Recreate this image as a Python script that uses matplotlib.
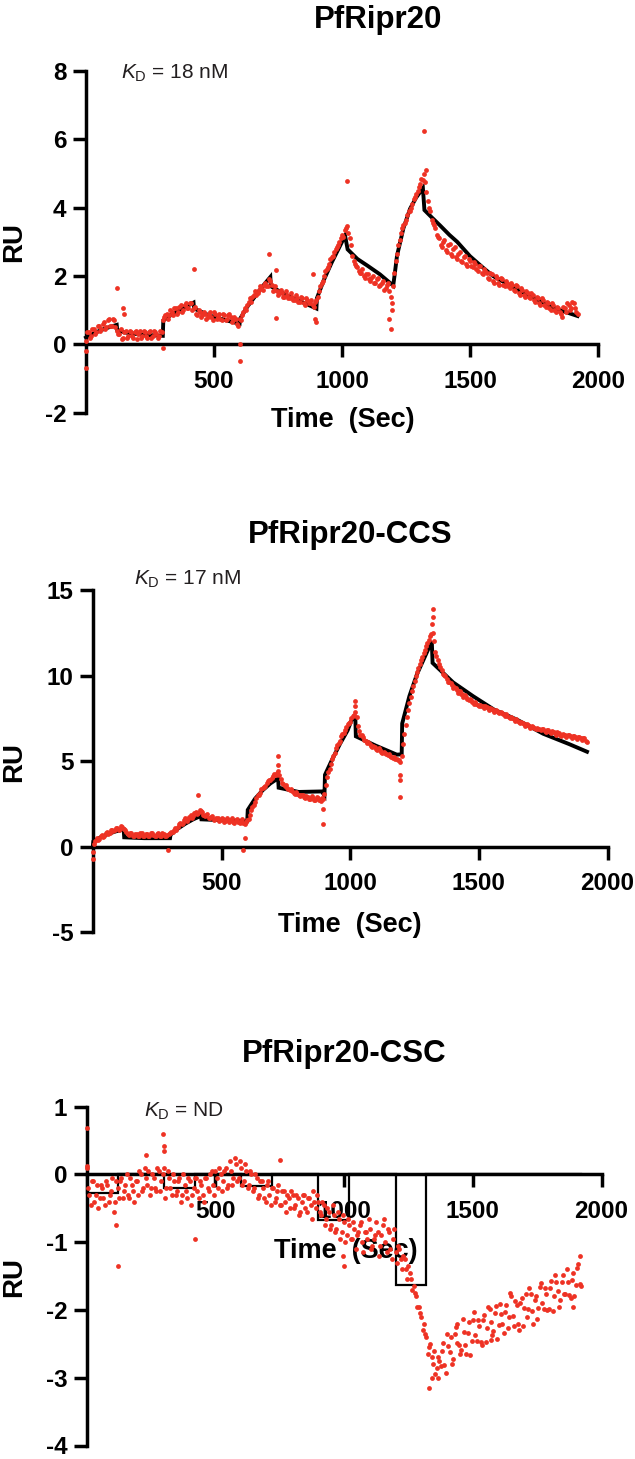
import numpy as np
import matplotlib
matplotlib.use("Agg")
import matplotlib.pyplot as plt

plt.rcParams['font.family'] = ['Liberation Sans', 'DejaVu Sans']
plt.rcParams['mathtext.fontset'] = 'custom'
plt.rcParams['mathtext.rm'] = 'Liberation Sans'
plt.rcParams['mathtext.it'] = 'Liberation Sans:italic'
plt.rcParams['axes.unicode_minus'] = False

# ---------------- data ----------------
titles = ["PfRipr20", "PfRipr20-CCS", "PfRipr20-CSC"]
kd_labels = [r"$K_{\mathrm{D}}$ = 18 nM", r"$K_{\mathrm{D}}$ = 17 nM", r"$K_{\mathrm{D}}$ = ND"]
x_ticks = [500, 1000, 1500, 2000]
y_ticks_1 = [-2, 0, 2, 4, 6, 8]
y_ticks_2 = [-5, 0, 5, 10, 15]
y_ticks_3 = [-4, -3, -2, -1, 0, 1]

# two interleaved readings of the sensorgram (every 10 s, offset by 5 s)
time_a = np.arange(0, 1930, 10)
time_b = np.arange(5, 1920, 10)

ru_1a = [0.10, 0.35, 0.25, 0.45, 0.35, 0.55, 0.45, 0.65, 0.50, 0.75,
         0.55, 0.70, 0.40, 0.30, 0.15, 0.35, 0.20, 0.40, 0.25, 0.35,
         0.15, 0.40, 0.25, 0.35, 0.20, 0.40, 0.25, 0.35, 0.20, 0.40,
         0.70, 0.85, 0.75, 1.00, 0.85, 1.05, 0.95, 1.15, 1.00, 1.20,
         1.05, 1.20, 1.05, 0.90, 1.00, 0.80, 0.95, 0.75, 0.90, 0.80,
         0.95, 0.75, 0.90, 0.70, 0.85, 0.75, 0.90, 0.65, 0.80, 0.60,
         0.75, 0.85, 1.05, 1.15, 1.35, 1.40, 1.55, 1.50, 1.70, 1.60,
         1.80, 1.70, 1.85, 1.55, 1.70, 1.45, 1.60, 1.40, 1.55, 1.35,
         1.50, 1.30, 1.45, 1.25, 1.40, 1.20, 1.35, 1.20, 1.30, 1.10,
         1.30, 1.55, 1.80, 2.00, 2.20, 2.35, 2.55, 2.70, 2.85, 3.00,
         3.20, 3.35, 3.45, 3.10, 2.60, 2.35, 2.25, 2.10, 2.20, 1.95,
         2.05, 1.85, 2.00, 1.80, 1.95, 1.75, 1.85, 1.65, 1.80, 1.40,
         1.70, 2.45, 2.90, 3.25, 3.50, 3.65, 3.90, 4.00, 4.25, 4.40,
         4.60, 4.85, 5.00, 4.45, 4.00, 3.65, 3.50, 3.20, 3.10, 2.85,
         3.05, 2.70, 2.95, 2.60, 2.85, 2.50, 2.70, 2.40, 2.60, 2.30,
         2.45, 2.25, 2.35, 2.15, 2.30, 2.05, 2.15, 1.95, 2.10, 1.85,
         2.00, 1.80, 1.95, 1.75, 1.85, 1.70, 1.80, 1.60, 1.75, 1.50,
         1.65, 1.45, 1.55, 1.40, 1.50, 1.30, 1.40, 1.20, 1.35, 1.15,
         1.25, 1.05, 1.20, 1.00, 1.10, 0.95, 0.80, 1.05, 1.20, 1.00,
         1.25, 1.05, 0.90]
ru_1b = [0.35, 0.20, 0.45, 0.30, 0.55, 0.40, 0.60, 0.45, 0.70, 0.55, 0.75, 0.50,
         0.30, 0.45, 0.20, 0.40, 0.25, 0.35, 0.20, 0.40, 0.30, 0.20, 0.40, 0.25,
         0.35, 0.20, 0.40, 0.30, 0.25, 0.35,
         0.80, 0.90, 0.85, 0.95, 1.05, 0.90, 1.10, 0.95, 1.15, 1.05, 1.20, 1.00,
         1.10, 0.85, 0.95, 0.85, 0.90, 0.80, 0.95, 0.70, 0.90, 0.80, 0.75, 0.90,
         0.70, 0.85, 0.80, 0.70, 0.75, 0.55,
         0.70, 0.95, 1.00, 1.25, 1.25, 1.45, 1.45, 1.60, 1.65, 1.75, 1.70, 1.90,
         1.75, 1.60, 1.55, 1.50, 1.50, 1.40, 1.45, 1.35, 1.40, 1.30, 1.35, 1.25,
         1.35, 1.15, 1.30, 1.20, 1.15, 1.25,
         1.40, 1.70, 1.85, 2.15, 2.25, 2.50, 2.60, 2.80, 2.90, 3.10, 3.15, 3.40,
         3.25, 2.90, 2.45, 2.30, 2.15, 2.10, 2.00, 2.05, 1.90, 1.95, 1.80, 1.90,
         1.70, 1.80, 1.60, 1.75, 1.55, 1.20,
         2.10, 2.65, 3.05, 3.40, 3.55, 3.80, 3.90, 4.10, 4.30, 4.50, 4.70, 4.80,
         4.75, 4.20, 3.90, 3.55, 3.40, 3.15, 2.90, 3.00, 2.75, 2.90, 2.65, 2.80,
         2.55, 2.65, 2.45, 2.55, 2.35, 2.50, 2.30, 2.40, 2.20, 2.30, 2.10, 2.20,
         2.10, 1.90, 2.05, 1.80, 1.95, 1.75, 1.90, 1.70, 1.80, 1.65, 1.75, 1.55,
         1.70, 1.45, 1.60, 1.40, 1.50, 1.35, 1.45, 1.25, 1.35, 1.15, 1.30, 1.10,
         1.20, 1.00, 1.15, 0.95, 1.05, 0.90, 1.10, 0.95, 1.15, 1.05, 1.20, 0.95]
out_t_1 = [0, 0, 120, 145, 150, 300, 420, 600, 600, 716, 743, 743, 887, 895, 900,
           1020, 1185, 1190, 1195, 1320, 1330]
out_ru_1 = [-0.70, -0.20, 1.65, 1.05, 0.90, -0.10, 2.22, -0.48, 0.00, 2.65, 2.18,
            0.76, 2.06, 0.75, 0.65, 4.78, 0.75, 0.45, 1.00, 6.25, 5.10]
fit_t_1 = [0, 30, 60, 90, 120, 122, 150, 200, 250, 300, 302, 330, 360, 390, 420,
           422, 480, 540, 600, 602, 630, 660, 690, 720, 722, 780, 840, 900, 902,
           930, 960, 990, 1012, 1022, 1060, 1100, 1148, 1200, 1205, 1215, 1240,
           1266, 1290, 1316, 1322, 1350, 1383, 1420, 1450, 1500, 1550, 1590, 1650,
           1700, 1750, 1810, 1860, 1920]
fit_ru_1 = [0.20, 0.32, 0.42, 0.50, 0.57, 0.42, 0.35, 0.30, 0.27, 0.25, 0.70, 0.85,
            0.98, 1.10, 1.22, 1.05, 0.85, 0.72, 0.60, 0.75, 1.10, 1.40, 1.70, 1.97,
            1.70, 1.45, 1.25, 1.05, 1.35, 1.90, 2.40, 2.85, 3.18, 2.78, 2.50, 2.30,
            2.05, 1.72, 2.00, 2.60, 3.40, 3.97, 4.30, 4.57, 3.93, 3.72, 3.48, 3.20,
            3.00, 2.58, 2.25, 2.00, 1.75, 1.55, 1.36, 1.13, 0.98, 0.83]

ru_2a = [-0.30, 0.35, 0.40, 0.60, 0.55, 0.80, 0.75, 0.95, 0.90, 1.10,
         1.00, 1.20, 1.05, 0.85, 0.70, 0.80, 0.60, 0.75, 0.65, 0.80,
         0.60, 0.75, 0.65, 0.80, 0.60, 0.75, 0.60, 0.80, 0.65, 0.70,
         0.80, 0.85, 1.10, 1.15, 1.40, 1.40, 1.65, 1.60, 1.85, 1.80,
         2.05, 1.95, 2.10, 1.85, 1.85, 1.70, 1.75, 1.55, 1.70, 1.50,
         1.70, 1.45, 1.65, 1.45, 1.65, 1.40, 1.60, 1.40, 1.60, 1.35,
         1.55, 1.85, 2.35, 2.60, 3.00, 3.15, 3.45, 3.55, 3.85, 3.90,
         4.15, 4.20, 4.40, 3.95, 3.65, 3.60, 3.35, 3.40, 3.15, 3.20,
         3.00, 3.05, 2.90, 2.95, 2.80, 2.95, 2.75, 2.90, 2.75, 2.85,
         3.10, 4.05, 4.55, 5.15, 5.45, 5.95, 6.20, 6.60, 6.80, 7.15,
         7.30, 7.65, 7.85, 7.05, 6.55, 6.40, 6.15, 6.10, 5.90, 5.90,
         5.70, 5.75, 5.55, 5.55, 5.40, 5.40, 5.25, 5.25, 5.10, 5.05,
         5.30, 6.60, 7.60, 8.40, 9.10, 9.70, 10.20, 10.70, 11.10, 11.50,
         11.90, 12.30, 12.50, 11.40, 10.90, 10.50, 10.10, 9.95, 9.65, 9.55,
         9.30, 9.25, 9.00, 8.95, 8.75, 8.75, 8.55, 8.55, 8.35, 8.35,
         8.20, 8.25, 8.10, 8.15, 8.00, 8.05, 7.90, 7.95, 7.80, 7.80,
         7.65, 7.65, 7.50, 7.50, 7.35, 7.35, 7.20, 7.20, 7.05, 7.10,
         6.95, 7.00, 6.85, 6.90, 6.80, 6.85, 6.70, 6.80, 6.65, 6.70,
         6.55, 6.65, 6.45, 6.55, 6.40, 6.50, 6.35, 6.45, 6.30, 6.40,
         6.25, 6.35, 6.10]
ru_2b = [0.15, 0.50, 0.45, 0.70, 0.65, 0.85, 0.80, 1.00, 0.95, 1.10, 1.05, 1.15,
         0.95, 0.75, 0.80, 0.65, 0.75, 0.60, 0.80, 0.65, 0.75, 0.60, 0.80, 0.70,
         0.65, 0.80, 0.60, 0.75, 0.65, 0.75,
         0.85, 1.00, 1.00, 1.30, 1.30, 1.55, 1.50, 1.75, 1.70, 1.95, 1.90, 2.15,
         2.00, 1.80, 1.90, 1.65, 1.80, 1.60, 1.65, 1.55, 1.60, 1.50, 1.55, 1.55,
         1.45, 1.55, 1.45, 1.50, 1.40, 1.45,
         1.60, 2.15, 2.45, 2.85, 3.05, 3.35, 3.50, 3.70, 3.90, 4.00, 4.25, 4.30,
         4.20, 3.75, 3.55, 3.45, 3.30, 3.25, 3.10, 3.10, 2.95, 3.00, 2.85, 2.90,
         2.80, 2.85, 2.75, 2.85, 2.70, 2.80,
         3.60, 4.35, 4.85, 5.30, 5.75, 6.05, 6.45, 6.65, 7.00, 7.20, 7.50, 7.70,
         7.60, 6.75, 6.50, 6.25, 6.05, 6.00, 5.85, 5.80, 5.65, 5.65, 5.50, 5.45,
         5.35, 5.30, 5.20, 5.15, 5.05, 4.95,
         6.00, 7.10, 8.00, 8.75, 9.40, 9.95, 10.45, 10.90, 11.30, 11.70, 12.10, 12.45,
         12.00, 11.15, 10.70, 10.30, 10.05, 9.80, 9.60, 9.45, 9.35, 9.15,
         9.10, 8.90, 8.85, 8.65, 8.65, 8.45, 8.45, 8.30, 8.30, 8.20,
         8.20, 8.10, 8.10, 8.00, 8.00, 7.90, 7.85, 7.75, 7.75, 7.60,
         7.60, 7.45, 7.45, 7.30, 7.30, 7.15, 7.15, 7.05, 7.05, 6.95,
         6.95, 6.85, 6.85, 6.75, 6.80, 6.70, 6.75, 6.65, 6.70, 6.55,
         6.60, 6.50, 6.55, 6.45, 6.45, 6.40, 6.40, 6.35, 6.35, 6.20]
out_t_2 = [0, 293, 410, 584, 590, 720, 720, 893, 895, 1020, 1020, 1195, 1195, 1195,
           1320, 1320, 1318]
out_ru_2 = [-0.70, -0.18, 3.04, -0.20, 0.50, 5.30, 4.80, 1.30, 2.20, 8.50, 8.20,
            2.90, 3.90, 4.20, 13.90, 13.40, 13.00]
fit_t_2 = [0, 2, 30, 60, 90, 120, 122, 200, 300, 302, 330, 360, 390, 420, 422, 500,
           600, 602, 630, 660, 690, 720, 722, 800, 889, 900, 902, 930, 960, 990,
           1006, 1020, 1022, 1100, 1181, 1200, 1202, 1230, 1260, 1290, 1317, 1320,
           1400, 1478, 1560, 1647, 1750, 1850, 1920]
fit_ru_2 = [0.00, 0.30, 0.55, 0.75, 0.90, 1.00, 0.55, 0.50, 0.50, 0.70, 1.05, 1.35,
            1.60, 1.80, 1.60, 1.55, 1.50, 2.15, 2.80, 3.30, 3.70, 4.00, 3.45, 3.20,
            3.23, 3.00, 4.20, 5.10, 6.00, 6.80, 7.43, 7.50, 6.45, 5.90, 5.38, 5.40,
            7.20, 8.80, 10.10, 11.10, 12.00, 10.74, 9.60, 8.79, 8.00, 7.43, 6.60,
            6.00, 5.55]

ru_3a = [0.10, -0.30, -0.10, -0.40, -0.15, -0.35, -0.20, -0.45, -0.15, -0.30,
         -0.05, -0.40, -0.20, -0.10, -0.35, -0.15, -0.30, -0.05, -0.25, -0.10,
         -0.30, 0.00, -0.20, -0.05, 0.05, -0.20, -0.05, -0.25, 0.05, -0.10,
         0.10, -0.20, -0.05, -0.30, -0.10, -0.25, -0.05, -0.30, -0.15, -0.35,
         -0.10, -0.30, -0.05, -0.25, -0.10, -0.30, -0.05, -0.20, 0.00, -0.15,
         0.05, -0.20, 0.00, -0.10, 0.10, -0.15, 0.05, -0.05, 0.15, -0.05,
         0.10, -0.10, 0.05, -0.15, 0.00, -0.20, -0.05, -0.30, -0.10, -0.35,
         -0.15, -0.30, -0.20, -0.40, -0.25, -0.45, -0.25, -0.40, -0.30, -0.50,
         -0.30, -0.45, -0.35, -0.55, -0.30, -0.50, -0.35, -0.45, -0.25, -0.50,
         -0.40, -0.60, -0.45, -0.65, -0.55, -0.75, -0.60, -0.80, -0.65, -0.85,
         -0.70, -0.90, -0.75, -0.95, -0.80, -0.90, -0.75, -1.00, -0.85, -0.95,
         -0.80, -1.05, -0.90, -0.85, -1.05, -0.75, -1.00, -0.80, -1.10, -0.95,
         -1.15, -1.05, -1.25, -1.20, -1.40, -1.35, -1.55, -1.65, -1.80, -1.95,
         -2.10, -2.20, -2.40, -2.55, -2.70, -2.60, -2.85, -2.75,
         -2.60, -2.81, -2.35, -2.62, -2.79, -2.36, -2.48, -2.65, -2.13, -2.51,
         -2.34, -2.67, -2.15, -2.37, -2.15, -2.47, -2.15, -2.47, -1.95, -2.18,
         -2.31, -1.94, -2.22, -2.06, -2.34, -1.93, -2.11, -1.80, -2.23, -1.92,
         -2.30, -1.83, -1.97, -2.10, -1.68, -2.01, -1.85, -2.13, -1.66, -1.89,
         -1.67, -2.00, -1.68, -2.01, -1.49, -1.72, -1.85, -1.48, -1.76, -1.59,
         -1.82, -1.45, -1.63, -1.32, -1.65]
ru_3b = [-0.20, -0.45, -0.10, -0.30, -0.50, -0.15, -0.35, -0.10, -0.40, -0.25, -0.55, -0.10,
         -0.35, -0.05, -0.25, 0.00, -0.35, -0.15, -0.40, -0.10, 0.05, -0.25, 0.10, -0.15,
         -0.30, 0.00, -0.20, 0.10, -0.25, 0.00,
         -0.35, 0.05, -0.20, 0.00, -0.30, -0.10, -0.40, 0.00, -0.25, -0.05, -0.45, -0.20,
         -0.05, -0.35, -0.15, -0.40, -0.05, -0.25, 0.05, -0.30, -0.05, 0.10, -0.25, 0.05,
         -0.20, 0.20, -0.15, 0.25, -0.10, 0.20,
         -0.15, 0.15, -0.20, 0.05, -0.25, 0.00, -0.35, -0.10, -0.20, -0.40, -0.10, -0.45,
         -0.20, -0.35, -0.15, -0.45, -0.25, -0.55, -0.35, -0.25, -0.50, -0.30, -0.60, -0.40,
         -0.30, -0.55, -0.35, -0.65, -0.40, -0.30,
         -0.55, -0.40, -0.75, -0.50, -0.80, -0.45, -0.85, -0.55, -0.95, -0.60, -1.00, -0.65,
         -0.95, -0.70, -1.10, -0.85, -0.70, -1.15, -0.85, -0.65, -1.10, -0.95, -0.70, -1.20,
         -0.90, -0.65, -1.15, -0.85, -1.25, -0.80,
         -1.30, -1.10, -1.40, -1.25, -1.55, -1.45, -1.70, -1.75, -1.95, -2.05, -2.30, -2.35,
         -2.65, -2.50, -2.80, -2.95, -2.70,
         -2.82, -2.48, -2.93, -2.53, -2.40, -2.72, -2.25, -2.52, -2.59, -2.32,
         -2.65, -2.18, -2.46, -2.03, -2.46, -2.23, -2.51, -2.08, -2.26, -1.99,
         -2.37, -2.05, -2.43, -1.91, -2.20, -2.03, -2.27, -1.75, -2.09, -1.87,
         -2.21, -1.89, -2.23, -1.76, -1.99, -1.77, -2.21, -1.79, -1.97, -1.60,
         -1.98, -1.76, -1.99, -1.57, -1.80, -1.58, -1.96, -1.59, -1.77, -1.40,
         -1.78, -1.56, -1.79, -1.38, -1.61]
out_t_3 = [0, 0, 115, 120, 230, 298, 300, 302, 420, 750, 995, 1000, 1330, 1340,
           1365, 1440, 1570, 1890, 1915]
out_ru_3 = [0.69, 0.12, -0.75, -1.35, 0.28, 0.59, 0.35, 0.42, -0.95, 0.22, -1.20,
            -1.35, -3.15, -3.00, -3.00, -2.20, -2.45, -1.95, -1.20]
fit_t_3 = [0, 0, 120, 120, 300, 300, 420, 420, 600, 600, 720, 720, 900, 900, 1020,
           1020, 1200, 1200, 1320, 1320, 1920]
fit_ru_3 = [0, -0.27, -0.27, 0, 0, -0.20, -0.20, 0, 0, -0.17, -0.17, 0, 0, -0.67,
            -0.67, 0, 0, -1.63, -1.63, 0, 0]

# ---------------- layout (pixels) ----------------
W, H = 635, 1459
RED = "#EE3224"

panels = [
    dict(ra=ru_1a, rb=ru_1b, ot=out_t_1, oru=out_ru_1, ft=fit_t_1, fru=fit_ru_1,
         yt=y_ticks_1, box=(86.0, 598.0, 71.0, 412.7), xlab=(343, 426.7),
         ylab=(14.5, 242), title=(378, 28.3), kd=(121, 78.3), flw=2.8),
    dict(ra=ru_2a, rb=ru_2b, ot=out_t_2, oru=out_ru_2, ft=fit_t_2, fru=fit_ru_2,
         yt=y_ticks_2, box=(92.8, 607.6, 590.0, 932.3), xlab=(350, 931.7),
         ylab=(14.5, 762), title=(350, 543.0), kd=(134, 585.0), flw=2.8),
    dict(ra=ru_3a, rb=ru_3b, ot=out_t_3, oru=out_ru_3, ft=fit_t_3, fru=fit_ru_3,
         yt=y_ticks_3, box=(86.7, 601.5, 1106.7, 1445.5), xlab=(346, 1258.3),
         ylab=(14.5, 1277), title=(344, 1061.7), kd=(144.5, 1117.0), flw=1.6),
]

fig = plt.figure(figsize=(W / 100, H / 100), dpi=100)
fig.patch.set_facecolor("white")

for i, p in enumerate(panels):
    x0, x1, yt_, yb_ = p["box"]
    ax = fig.add_axes([x0 / W, 1 - yb_ / H, (x1 - x0) / W, (yb_ - yt_) / H])
    ax.set_facecolor("none")
    ax.set_xlim(0, 2000)
    ax.set_ylim(p["yt"][0], p["yt"][-1])
    for s in ("top", "right"):
        ax.spines[s].set_visible(False)
    ax.spines["bottom"].set_position(("data", 0))
    for s in ("left", "bottom"):
        ax.spines[s].set_linewidth(2.5)
    ax.set_xticks(x_ticks)
    ax.set_yticks(p["yt"])
    ax.tick_params(direction="out", length=9.5, width=2.5, labelsize=17.5)
    ax.tick_params(axis="x", pad=9.0)
    ax.tick_params(axis="y", pad=4.5)
    for lbl in ax.get_xticklabels() + ax.get_yticklabels():
        lbl.set_fontweight("bold")

    ax.plot(p["ft"], p["fru"], color="black", lw=p["flw"], zorder=2.8,
            solid_joinstyle="miter", clip_on=False)
    ax.scatter(time_a, p["ra"], s=12, color=RED, linewidths=0, zorder=3, clip_on=False)
    ax.scatter(time_b, p["rb"], s=12, color=RED, linewidths=0, zorder=3, clip_on=False)
    ax.scatter(p["ot"], p["oru"], s=12, color=RED, linewidths=0, zorder=3, clip_on=False)

    ax.set_xlabel("Time  (Sec)", fontsize=19.5, fontweight="bold")
    ax.xaxis.label.set_va("baseline")
    cx, by = p["xlab"]
    ax.xaxis.set_label_coords((cx - x0) / (x1 - x0), (yb_ - by) / (yb_ - yt_))
    ax.set_ylabel("RU", fontsize=20, fontweight="bold")
    ax.yaxis.label.set_va("center")
    lx, ly = p["ylab"]
    ax.yaxis.set_label_coords((lx - x0) / (x1 - x0), (yb_ - ly) / (yb_ - yt_))

    tx, ty = p["title"]
    fig.text(tx / W, 1 - ty / H, titles[i], ha="center", va="baseline",
             fontsize=22.5, fontweight="bold")
    kx, ky = p["kd"]
    fig.text(kx / W, 1 - ky / H, kd_labels[i], ha="left", va="baseline",
             fontsize=15, color="#231F20")

fig.savefig("out.png", dpi=100, facecolor="white")
